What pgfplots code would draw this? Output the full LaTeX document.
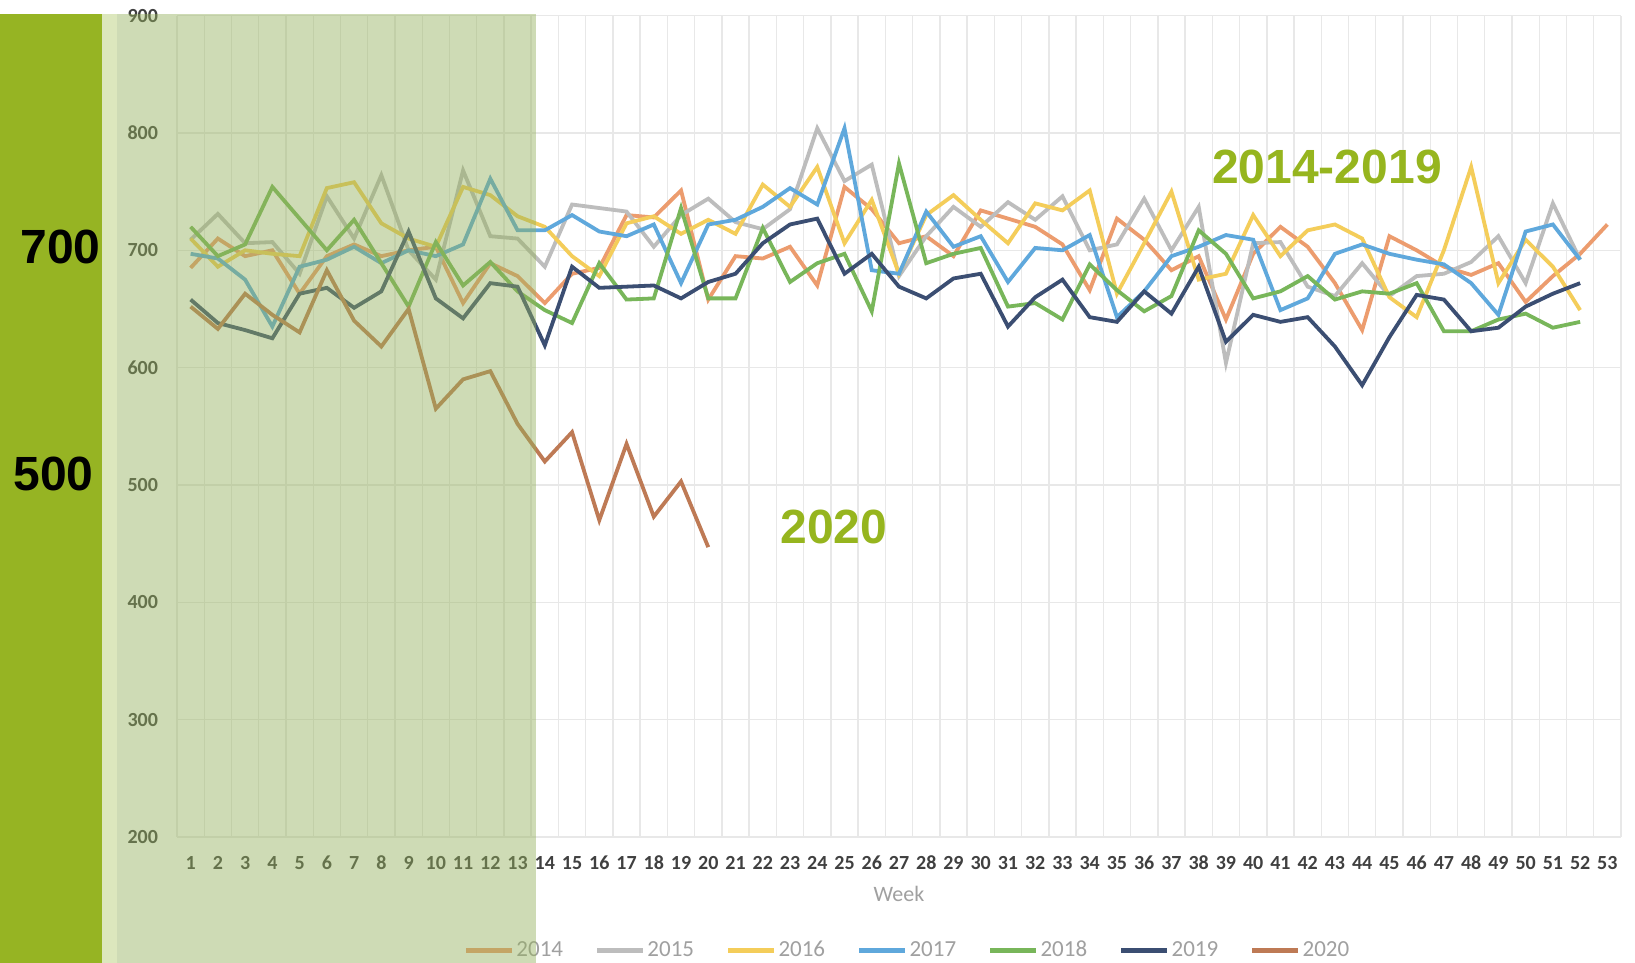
\documentclass[border=0pt]{standalone}
\usepackage{pgfplots}
\pgfplotsset{compat=1.18}
\usepackage{fontspec}
\setmainfont{Carlito}
\newfontfamily\arialf{Liberation Sans}
\definecolor{c2014}{HTML}{EC9C6E}
\definecolor{c2015}{HTML}{BDBDBD}
\definecolor{c2016}{HTML}{F4CD5A}
\definecolor{c2017}{HTML}{5FA8DC}
\definecolor{c2018}{HTML}{78B65A}
\definecolor{c2019}{HTML}{3B4E72}
\definecolor{c2020}{HTML}{BE7A55}
\definecolor{gridc}{HTML}{E8E8E8}
\definecolor{tickc}{HTML}{404040}
\definecolor{weekc}{HTML}{A0A0A0}
\definecolor{bandc}{HTML}{96B423}
\definecolor{stripc}{HTML}{DCE7BD}
\definecolor{shadec}{RGB}{148,177,91}
\definecolor{titlec}{HTML}{96B51E}
\begin{document}
\begin{tikzpicture}
\path[use as bounding box] (0,0) rectangle (817.5pt,481.5pt);
\fill[white] (0,0) rectangle (817.5pt,481.5pt);
\begin{axis}[
  at={(88.5pt,63pt)}, anchor=south west,
  scale only axis, width=722pt, height=410.7pt,
  xmin=0.5, xmax=53.5, ymin=200, ymax=900,
  xtick={1,...,53}, minor xtick={0.5,1.5,...,53.5},
  ytick={200,300,...,900},
  xminorgrids, ymajorgrids,
  minor grid style={color=gridc, line width=0.7pt},
  major grid style={color=gridc, line width=0.7pt},
  axis line style={draw=none},
  major tick length=0pt, minor tick length=0pt,
  tick style={draw=none},
  /pgf/number format/assume math mode=true,
  ticklabel style={font=\fontsize{10}{12}\selectfont\bfseries, text=tickc},
  xticklabel style={yshift=-6pt},
  yticklabel style={xshift=-6pt},
  xlabel={Week},
  xlabel style={at={(axis description cs:0.5,0)}, anchor=center, yshift=-28.5pt, font=\fontsize{11}{13}\selectfont, text=weekc},
  legend style={at={(axis description cs:0.506,-0.138)}, anchor=center, draw=none, fill=none,
    legend columns=7, font=\fontsize{11.5}{14}\selectfont, text=weekc,
    /tikz/every even column/.append style={column sep=15pt},
    nodes={inner sep=1pt}},
  legend image code/.code={\draw[#1, line width=2.2pt] (0pt,0pt) -- (23pt,0pt);},
]
\addplot[color=c2014, line width=1.9pt] coordinates {
(1,685)(2,710)(3,695)(4,700)(5,663)(6,695)(7,705)(8,695)(9,700)(10,703)
(11,655)(12,689)(13,678)(14,655)(15,680)(16,685)(17,730)(18,728)(19,751)(20,658)
(21,695)(22,693)(23,703)(24,670)(25,754)(26,735)(27,706)(28,712)(29,695)(30,734)
(31,727)(32,720)(33,705)(34,666)(35,727)(36,709)(37,683)(38,695)(39,641)(40,697)
(41,720)(42,703)(43,672)(44,632)(45,712)(46,700)(47,686)(48,679)(49,689)(50,656)
(51,678)(52,697)(53,722)};
\addlegendentry{2014}
\addplot[color=c2015, line width=1.9pt] coordinates {
(1,709)(2,731)(3,706)(4,707)(5,680)(6,746)(7,710)(8,764)(9,700)(10,675)
(11,768)(12,712)(13,710)(14,686)(15,739)(16,736)(17,733)(18,703)(19,730)(20,744)
(21,724)(22,718)(23,735)(24,804)(25,759)(26,773)(27,678)(28,712)(29,737)(30,720)
(31,741)(32,726)(33,746)(34,700)(35,705)(36,744)(37,700)(38,737)(39,604)(40,706)
(41,707)(42,669)(43,661)(44,689)(45,661)(46,678)(47,680)(48,690)(49,712)(50,672)
(51,740)(52,692)};
\addlegendentry{2015}
\addplot[color=c2016, line width=1.9pt] coordinates {
(1,710)(2,686)(3,700)(4,697)(5,695)(6,753)(7,758)(8,723)(9,710)(10,703)
(11,754)(12,747)(13,729)(14,720)(15,695)(16,678)(17,723)(18,729)(19,714)(20,726)
(21,714)(22,756)(23,737)(24,771)(25,706)(26,743)(27,680)(28,730)(29,747)(30,726)
(31,706)(32,740)(33,734)(34,751)(35,663)(36,706)(37,750)(38,675)(39,680)(40,730)
(41,695)(42,717)(43,722)(44,710)(45,660)(46,643)(47,700)(48,771)(49,672)(50,709)
(51,686)(52,649)};
\addlegendentry{2016}
\addplot[color=c2017, line width=1.9pt] coordinates {
(1,697)(2,693)(3,675)(4,635)(5,686)(6,692)(7,703)(8,689)(9,700)(10,695)
(11,705)(12,761)(13,717)(14,717)(15,730)(16,716)(17,712)(18,722)(19,672)(20,722)
(21,726)(22,737)(23,753)(24,739)(25,804)(26,683)(27,680)(28,733)(29,703)(30,712)
(31,673)(32,702)(33,700)(34,713)(35,643)(36,665)(37,695)(38,703)(39,713)(40,709)
(41,649)(42,659)(43,697)(44,705)(45,697)(46,692)(47,688)(48,672)(49,645)(50,716)
(51,722)(52,692)};
\addlegendentry{2017}
\addplot[color=c2018, line width=1.9pt] coordinates {
(1,720)(2,695)(3,705)(4,754)(5,727)(6,700)(7,726)(8,689)(9,652)(10,707)
(11,670)(12,690)(13,665)(14,649)(15,638)(16,689)(17,658)(18,659)(19,736)(20,659)
(21,659)(22,719)(23,673)(24,689)(25,697)(26,648)(27,774)(28,689)(29,697)(30,702)
(31,652)(32,655)(33,641)(34,688)(35,666)(36,648)(37,661)(38,717)(39,697)(40,659)
(41,665)(42,678)(43,658)(44,665)(45,663)(46,672)(47,631)(48,631)(49,641)(50,646)
(51,634)(52,639)};
\addlegendentry{2018}
\addplot[color=c2019, line width=1.9pt] coordinates {
(1,658)(2,638)(3,632)(4,625)(5,663)(6,668)(7,651)(8,665)(9,716)(10,659)
(11,642)(12,672)(13,669)(14,619)(15,686)(16,668)(17,669)(18,670)(19,659)(20,673)
(21,680)(22,706)(23,722)(24,727)(25,680)(26,697)(27,669)(28,659)(29,676)(30,680)
(31,635)(32,660)(33,675)(34,643)(35,639)(36,665)(37,646)(38,686)(39,622)(40,645)
(41,639)(42,643)(43,618)(44,585)(45,626)(46,662)(47,658)(48,631)(49,634)(50,652)
(51,663)(52,672)};
\addlegendentry{2019}
\addplot[color=c2020, line width=1.9pt] coordinates {
(1,652)(2,633)(3,663)(4,645)(5,630)(6,683)(7,640)(8,618)(9,650)(10,565)
(11,590)(12,597)(13,552)(14,520)(15,545)(16,470)(17,535)(18,473)(19,503)(20,447)};
\addlegendentry{2020}
\end{axis}
\fill[bandc] (0,0) rectangle (51pt,474.5pt);
\fill[stripc] (51pt,0) rectangle (58.5pt,474.5pt);
\fill[shadec, opacity=0.45] (58.5pt,0) rectangle (268pt,474.5pt);
\node[anchor=east, inner sep=0pt, font=\arialf\bfseries\fontsize{24}{28}\selectfont] at (50.5pt,358pt) {700};
\node[anchor=east, inner sep=0pt, font=\arialf\bfseries\fontsize{24}{28}\selectfont] at (47pt,244.5pt) {500};
\node[inner sep=0pt, text=titlec, font=\arialf\bfseries\fontsize{24}{28}\selectfont] at (417pt,218pt) {2020};
\node[inner sep=0pt, text=titlec, font=\arialf\bfseries\fontsize{24}{28}\selectfont] at (663.5pt,398pt) {2014-2019};
\end{tikzpicture}
\end{document}
